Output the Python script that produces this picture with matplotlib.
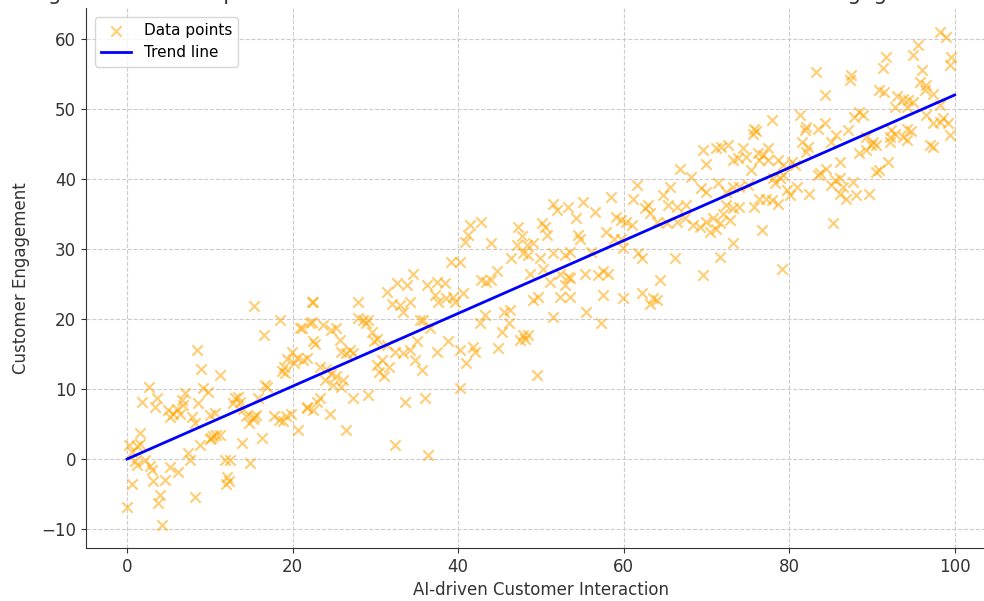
import numpy as np
from matplotlib import pyplot as plt

# points (x, y pairs split in two lists)
ai_interaction = [
    15.3, 18.5, 22.3, 16.5, 21.1, 22.3, 22.5, 8.4, 9.0, 11.2, 19.9,
    19.3, 20.6, 20.2, 19.0, 18.7, 19.1,
    2.6, 1.8, 3.6, 3.4, 7.0, 6.6, 6.8, 8.6, 9.2, 9.8,
    5.0, 5.6, 6.4, 6.0, 5.2, 7.8, 8.2, 10.0, 10.6,
    13.0, 13.4, 12.8, 13.7, 14.0, 14.4, 14.8, 15.2, 15.6,
    17.8, 18.4, 18.8, 19.2, 19.8,
    15.8, 16.7, 16.9, 15.3, 16.3, 13.9, 20.7, 21.7,
    0.2, 1.2, 0.6, 1.6, 1.6,
    1.0, 2.2, 2.8, 3.0, 1.2,
    5.2, 6.2, 4.6, 3.2, 0.6, 4.0, 3.8, 0.0, 4.2, 8.2,
    7.4, 7.6, 8.8, 10.0, 10.4, 10.8, 11.2, 10.2,
    11.8, 12.4, 12.1, 12.3, 12.0, 14.9,
    34.6, 32.6, 33.8, 31.4, 36.2, 37.4, 38.4, 22.5, 27.9,
    32.0, 33.0, 34.2, 33.4,
    37.2, 37.6, 38.6, 39.4, 40.6, 39.6,
    42.8, 43.4, 44.0, 44.7,
    20.9, 22.1, 23.7, 24.7, 25.3, 25.7, 22.7, 21.3, 21.7,
    27.9, 28.5, 29.1, 28.9, 29.6, 29.8, 30.2,
    26.9, 26.5, 25.9, 27.3,
    31.4, 32.4, 33.4,
    30.8, 30.2, 31.6, 30.4, 31.0,
    34.2, 34.8, 35.6, 35.0,
    35.4, 35.8, 36.6, 38.8, 37.4, 40.2, 41.0, 41.8, 42.0, 44.8,
    42.6, 43.2, 45.5, 46.3, 45.3, 46.1, 47.5, 48.5,
    40.2,
    23.3, 24.1, 24.7, 25.3, 26.1, 23.9, 24.9, 25.9,
    23.3, 22.9, 21.7, 22.5, 24.5,
    27.3, 29.1, 26.5, 33.6, 36.0, 32.4, 36.4,
    48.7, 51.1, 52.3, 52.9, 53.5, 55.3, 56.9, 57.5, 58.1,
    49.1, 49.7, 52.3, 53.5, 51.5, 55.5, 57.3, 57.5, 59.9,
    62.2, 63.2, 63.6, 64.0, 64.4, 69.6, 47.9, 48.1, 49.5,
    69.6, 71.2, 71.8, 72.6, 70.0, 74.4, 73.8, 73.2,
    66.8, 68.2, 61.6, 58.5,
    61.1, 63.0, 64.8, 65.6, 65.4, 66.4, 67.6,
    69.4, 70.0, 71.4, 72.4, 73.2, 74.0, 75.0,
    72.4, 73.2, 74.0,
    51.5, 51.9, 53.3, 55.1, 56.5, 54.3,
    59.1, 59.7, 60.3, 61.0,
    62.6, 63.2, 64.0, 65.2, 66.4, 67.4, 68.4, 69.2, 70.0, 70.8, 71.6,
    70.4, 71.2, 72.0, 72.9,
    49.1, 50.1, 50.7, 50.5,
    54.7, 54.5, 53.5, 52.9, 56.1, 57.9, 58.9,
    49.9, 51.5, 50.3, 53.3,
    59.7, 59.9, 61.8, 62.2, 66.2, 71.6, 73.2,
    42.8, 41.4, 41.2, 40.8, 44.0, 47.3, 47.7, 47.1, 48.3, 47.9, 48.5, 46.4, 39.2, 40.2,
    98.2, 99.0, 95.6, 91.7, 91.3, 95.0, 96.0, 99.6, 99.4,
    83.3, 87.5, 87.3, 84.3, 90.9, 91.5,
    95.8, 96.6, 96.4, 97.4,
    93.0, 93.8, 94.4, 95.0, 92.8, 94.2,
    98.2, 96.6, 97.4, 98.6, 98.2, 99.2, 99.4, 97.0, 97.4,
    88.5, 88.9, 87.9, 77.9, 81.3, 82.1, 81.9,
    75.8, 75.6, 76.0, 84.3, 83.5, 87.1, 85.7, 85.1, 81.5, 82.3,
    92.3, 92.8, 92.2, 94.2, 94.7, 93.8, 94.2,
    89.3, 90.1, 89.9, 90.5, 89.3, 88.5,
    92.2, 92.0, 90.9,
    74.8, 76.2, 76.8, 77.5, 76.4, 77.5, 75.4,
    78.7, 79.3, 80.3, 80.7, 79.3, 78.9, 82.1,
    83.7, 84.5, 83.5, 86.1, 85.5, 86.1, 85.1, 86.5, 87.7, 88.1, 86.9, 86.1, 89.7,
    82.4, 80.9, 79.7, 80.1,
    78.1, 78.3, 76.4, 77.2, 77.9, 78.7, 75.8,
    76.7, 85.3, 79.1, 90.5,
]
engagement = [
    21.9, 19.9, 22.5, 17.7, 18.7, 19.6, 16.8, 15.6, 12.8, 12.0, 15.3,
    14.3, 14.5, 13.7, 13.2, 12.6, 12.3,
    10.3, 8.2, 8.7, 7.5, 9.4, 8.4, 7.7, 8.0, 10.1, 9.6,
    7.0, 6.5, 6.5, 7.2, 6.0, 6.0, 5.1, 6.3, 6.6,
    8.7, 8.9, 8.0, 8.2, 7.2, 6.1, 5.2, 5.7, 6.3,
    6.1, 5.6, 5.4, 6.1, 6.5,
    8.7, 10.6, 10.3, 6.0, 3.0, 2.3, 4.1, 7.3,
    2.0, 1.8, 1.0, 2.2, 3.7,
    -0.3, -0.1, -1.0, -1.5, -0.8,
    -1.1, -1.8, -3.0, -3.2, -3.5, -5.1, -6.3, -6.8, -9.4, -5.4,
    0.8, -0.1, 2.0, 2.8, 3.3, 3.5, 3.4, 3.0,
    -0.1, -0.1, -2.6, -3.2, -3.5, -0.6,
    26.5, 25.1, 24.9, 23.9, 24.9, 25.3, 25.1, 22.5, 22.5,
    22.2, 22.0, 22.5, 21.0,
    23.4, 22.5, 23.0, 23.2, 23.7, 22.5,
    25.6, 25.3, 25.6, 26.8,
    18.7, 19.4, 19.1, 18.4, 18.7, 17.0, 16.5, 14.1, 14.4,
    20.1, 19.9, 19.9, 19.4, 18.2, 16.8, 17.2,
    15.6, 15.1, 15.3, 15.1,
    16.3, 15.3, 15.1,
    14.1, 13.4, 13.2, 12.5, 11.8,
    15.6, 14.1, 12.7, 16.8,
    19.9, 19.9, 18.7, 16.8, 15.3, 15.6, 13.7, 16.0, 15.3, 15.8,
    19.4, 20.6, 21.0, 21.3, 18.2, 19.4, 17.0, 17.7,
    10.1,
    13.2, 12.9, 12.2, 11.8, 11.3, 11.3, 10.6, 10.3,
    8.7, 8.2, 7.5, 7.0, 6.5,
    8.7, 9.1, 4.1, 8.2, 8.7, 2.0, 0.6,
    26.5, 25.3, 26.5, 24.9, 25.8, 26.5, 26.3, 26.8, 26.5,
    22.7, 23.2, 23.2, 23.2, 20.3, 21.0, 19.4, 23.4, 23.0,
    23.7, 22.2, 23.0, 22.7, 25.6, 26.3, 17.7, 17.2, 12.0,
    44.1, 44.4, 44.6, 44.9, 42.2, 44.4, 43.0, 42.7,
    41.5, 40.3, 39.1, 37.5,
    37.2, 36.3, 37.7, 38.9, 36.3, 36.0, 36.3,
    38.7, 38.2, 39.4, 38.2, 38.9, 38.9, 39.1,
    36.3, 35.8, 36.0,
    36.5, 35.6, 36.0, 36.7, 35.3, 34.4,
    34.6, 34.1, 33.9, 33.4,
    35.8, 35.1, 33.9, 33.7, 33.9, 34.4, 33.4, 33.1, 33.9, 34.4, 33.7,
    32.4, 32.9, 35.0, 34.2,
    30.8, 33.7, 32.0, 33.2,
    31.5, 32.0, 29.6, 29.1, 29.6, 32.5, 31.5,
    28.7, 29.4, 27.2, 26.0,
    31.5, 30.1, 29.4, 28.7, 28.7, 28.9, 30.8,
    33.9, 33.4, 32.0, 31.0, 30.8, 33.2, 31.8, 30.6, 30.6, 29.4, 29.1, 28.7, 28.2, 28.2,
    61.0, 60.3, 59.1, 57.5, 55.8, 57.7, 55.6, 57.5, 56.3,
    55.3, 54.9, 54.1, 52.0, 52.7, 52.5,
    53.9, 53.4, 52.7, 52.2,
    51.8, 51.5, 51.3, 51.0, 50.3, 50.3,
    50.6, 49.1, 48.0, 48.7, 48.2, 48.0, 46.3, 44.9, 44.6,
    49.6, 49.1, 48.9, 48.4, 49.1, 47.5, 47.0,
    47.2, 46.5, 46.8, 48.0, 47.2, 47.0, 46.3, 45.3, 45.3, 44.6,
    47.0, 46.5, 46.0, 47.2, 46.8, 46.0, 45.6,
    46.0, 45.3, 44.9, 44.9, 44.1, 43.7,
    45.3, 42.5, 41.3,
    43.2, 43.7, 43.4, 44.4, 42.7, 42.7, 41.3,
    42.7, 42.0, 42.5, 42.0, 40.6, 40.1, 43.9,
    40.8, 41.5, 40.6, 42.5, 39.9, 40.1, 39.1, 38.9, 39.6, 37.7, 37.2, 37.9, 37.9,
    37.9, 38.9, 38.5, 37.7,
    40.1, 39.4, 37.2, 37.2, 37.0, 36.5, 36.0,
    32.7, 33.7, 27.2, 41.0,
]

trend_x = [0, 100]
trend_y = [0, 52]

x_ticks = [0, 20, 40, 60, 80, 100]
y_ticks = [-10, 0, 10, 20, 30, 40, 50, 60]

fig = plt.figure(figsize=(9.84, 6.01), dpi=100)
# axes run past the right edge, the reference is a crop
ax = fig.add_axes([85.6 / 984, 53 / 601, 910.4 / 984, 540.5 / 601])

ax.scatter(ai_interaction, engagement, marker='x', color='orange', alpha=0.55,
           s=55, linewidths=1.5, label='Data points')
ax.plot(trend_x, trend_y, color='blue', linewidth=2, label='Trend line')

ax.set_xlim(-5, 105)
ax.set_ylim(-12.7, 64.5)
ax.set_xticks(x_ticks)
ax.set_yticks(y_ticks)
ax.tick_params(labelsize=12, colors='#333333')
ax.set_xlabel('AI-driven Customer Interaction', fontsize=12, color='#333333')
ax.set_ylabel('Customer Engagement', fontsize=12, color='#333333', labelpad=8)
ax.grid(True, linestyle='--', color='#cccccc', linewidth=0.8)
ax.set_axisbelow(True)
for side in ['top', 'right']:
    ax.spines[side].set_visible(False)
for side in ['left', 'bottom']:
    ax.spines[side].set_color('#333333')

ax.legend(loc='upper left', fontsize=11, framealpha=0.8, borderaxespad=0.6)

# title sits above the crop, only its lower edge shows
fig.text(0.5, 1.0, 'Scatter Plot Showing the Relationship between AI-driven '
         'Customer Interaction and Customer Engagement with a Trend Line',
         ha='center', va='baseline', fontsize=15, color='#333333')

fig.savefig('out.png', dpi=100)
